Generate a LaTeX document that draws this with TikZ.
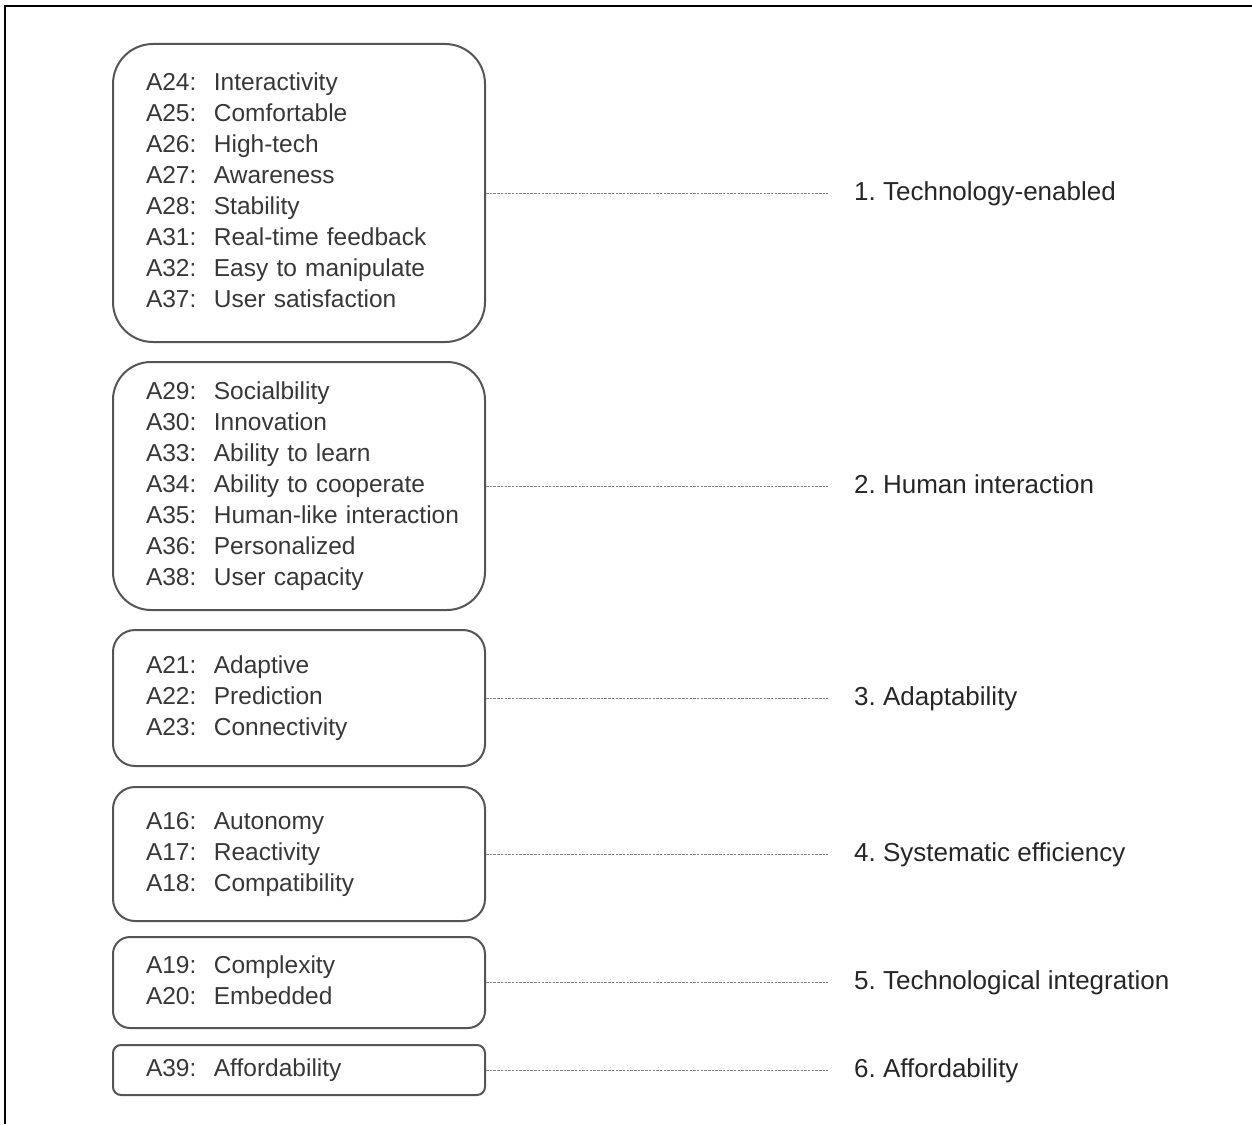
\documentclass[tikz,border=0pt]{standalone}
\usepackage{fontspec}
\setmainfont{Liberation Sans}
\usepackage{tikz}
\usetikzlibrary{positioning}
\definecolor{marco}{RGB}{85,85,85}
\definecolor{texto}{RGB}{55,55,55}
\definecolor{guion}{RGB}{130,130,130}
\newcommand{\atributos}[1]{\noindent\begin{tabular}{@{}l@{\hspace{17.5pt}}l@{}}#1\end{tabular}}
\frenchspacing

\begin{document}
\begin{tikzpicture}[x=1pt, y=-1pt,
    caja/.style={draw=marco, line width=2pt, text=texto, inner xsep=33pt, inner ysep=0pt,
        text width=306pt, align=left, font=\fontsize{24.5}{31}\selectfont},
    etiqueta/.style={inner xsep=26pt, text=black!85, text height=19pt, text depth=5pt,
        font=\fontsize{26}{30}\selectfont},
    enlace/.style={draw=guion, line width=0.9pt, dash pattern=on 2.5pt off 1.2pt}]
    \useasboundingbox (0,0) rectangle (1252,1124);
    \draw[line width=1.5pt] (5,1124) -- (5,6) -- (1252,6);
    % cajas de atributos
    \node[caja, minimum height=298pt, rounded corners=40pt, anchor=north west] (b1) at (112,43)
        {\atributos{A24: & Interactivity\\ A25: & Comfortable\\ A26: & High-tech\\ A27: & Awareness\\
         A28: & Stability\\ A31: & Real-time feedback\\ A32: & Easy to manipulate\\ A37: & User satisfaction}};
    \node[caja, minimum height=248pt, rounded corners=38pt, below=18pt of b1] (b2)
        {\atributos{A29: & Socialbility\\ A30: & Innovation\\ A33: & Ability to learn\\ A34: & Ability to cooperate\\
         A35: & Human-like interaction\\ A36: & Personalized\\ A38: & User capacity}};
    \node[caja, minimum height=136pt, rounded corners=22pt, below=18pt of b2] (b3)
        {\atributos{A21: & Adaptive\\ A22: & Prediction\\ A23: & Connectivity}};
    \node[caja, minimum height=134pt, rounded corners=22pt, below=19pt of b3] (b4)
        {\atributos{A16: & Autonomy\\ A17: & Reactivity\\ A18: & Compatibility}};
    \node[caja, minimum height=91pt, rounded corners=17pt, below=14pt of b4] (b5)
        {\atributos{A19: & Complexity\\ A20: & Embedded}};
    \node[caja, minimum height=50pt, rounded corners=8pt, below=15pt of b5] (b6)
        {\atributos{A39: & Affordability}};
    % factores
    \foreach \i/\t in {1/Technology-enabled, 2/Human interaction, 3/Adaptability,
                       4/Systematic efficiency, 5/Technological integration, 6/Affordability} {
        \node[etiqueta, right=342pt of b\i] (e\i) {\i. \t};
        \draw[enlace] (b\i) -- (e\i);
    }
\end{tikzpicture}
\end{document}
